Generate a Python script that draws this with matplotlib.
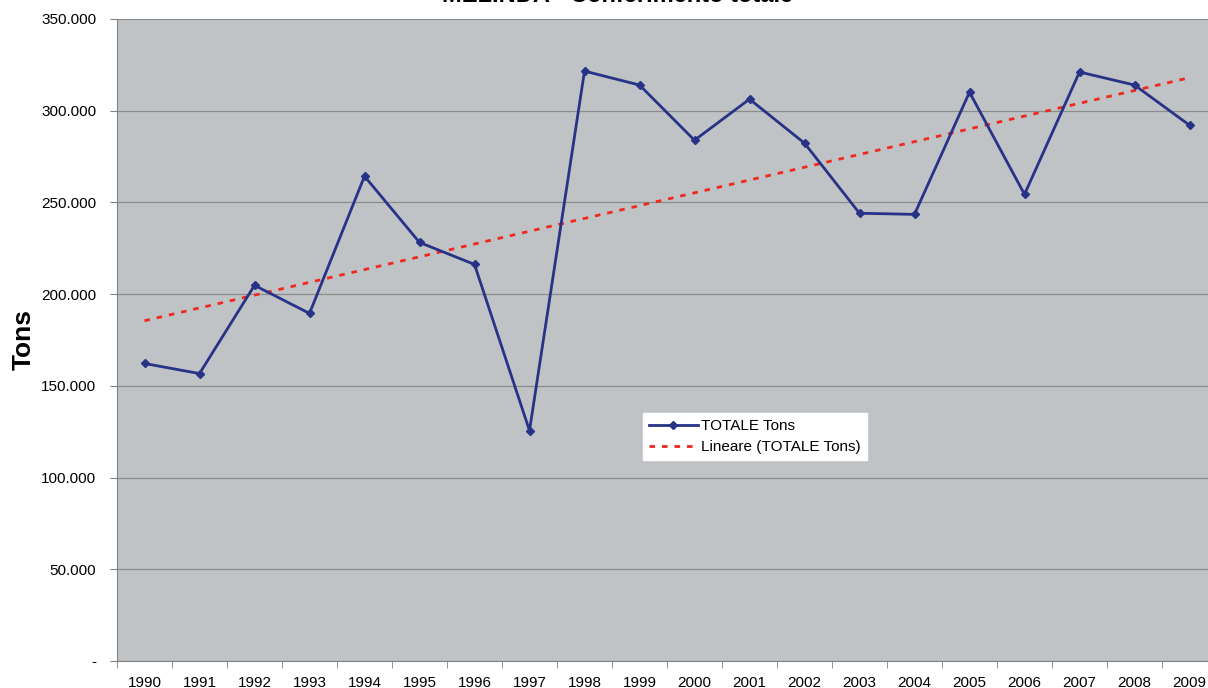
import numpy as np
import matplotlib.pyplot as plt
from matplotlib.ticker import FuncFormatter, MultipleLocator

plt.rcParams['font.family'] = ['Liberation Sans', 'DejaVu Sans']

# data
years = [str(y) for y in range(1990, 2010)]
tons = [162200, 156700, 204800, 189500, 264300, 228200, 216200, 125600, 321600, 314000,
        283900, 306300, 282300, 244100, 243500, 310100, 254400, 321100, 314000, 292100]

x = np.arange(len(years))

# linear trend as Excel draws it
coef = np.polyfit(x, tons, 1)
trend = np.polyval(coef, x)

fig = plt.figure(figsize=(12.08, 6.88), dpi=100)
ax = fig.add_axes([117/1208, 27/688, 1100/1208, 642/688])
ax.set_facecolor('#C0C3C6')

ax.plot(x, tons, color='#283287', lw=2, marker='D', ms=4.5, label='TOTALE Tons', zorder=3)
ax.plot(x, trend, color='#F0281E', lw=2, ls=(0, (2, 2.5)), label='Lineare (TOTALE Tons)', zorder=2)

ax.set_xlim(-0.5, len(years) - 0.5)
ax.set_ylim(0, 350000)
ax.yaxis.set_major_locator(MultipleLocator(50000))
def fmt(v, pos):
  if v == 0:
    return '-'
  return f"{int(v):,}".replace(',', '.')
ax.yaxis.set_major_formatter(FuncFormatter(fmt))
ax.grid(axis='y', color='#8C8C8C', lw=0.9)
ax.set_axisbelow(True)

ax.set_xticks(x)
ax.set_xticklabels(years)
ax.set_xticks(np.arange(-0.5, len(years)), minor=True)
ax.tick_params(axis='x', which='major', length=0, pad=11, labelsize=11)
ax.tick_params(axis='x', which='minor', length=5, color='#808080')
ax.tick_params(axis='y', length=5, color='#808080', labelsize=11, pad=10)

for s in ['top', 'right']:
  ax.spines[s].set_visible(False)
for s in ['left', 'bottom']:
  ax.spines[s].set_color('#808080')

ax.set_ylabel('Tons', fontsize=19, fontweight='bold', labelpad=4)
fig.text(0.511, 1.006, 'MELINDA - Conferimento totale', ha='center', va='center',
         fontsize=17, fontweight='bold')

leg = ax.legend(loc='upper left', bbox_to_anchor=(0.478, 0.386), fontsize=11,
                frameon=True, fancybox=False, framealpha=1, edgecolor='white',
                borderpad=0.4, handlelength=3.2, handletextpad=0.2, labelspacing=0.45,
                borderaxespad=0)

fig.savefig('out.png', dpi=100)
